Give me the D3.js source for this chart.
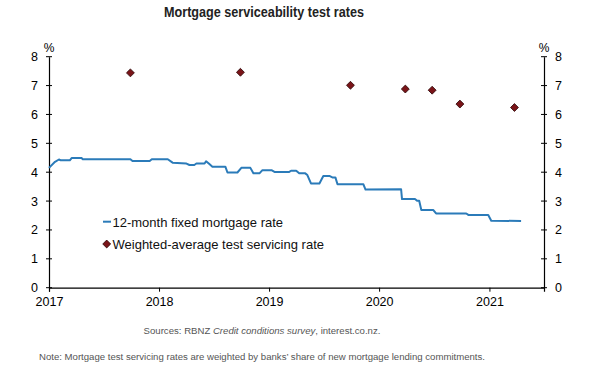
<!DOCTYPE html>
<html>
<head>
<meta charset="utf-8">
<script src="https://cdn.jsdelivr.net/npm/d3@7"></script>
<style>
  body { margin: 0; background: #fff; }
  svg { display: block; font-family: "Liberation Sans", Arial, sans-serif; }
</style>
</head>
<body>
<svg id="chart" width="589" height="370"></svg>
<script>
// 12-month fixed mortgage rate (%) at the step edges
let fixedDates = ["2017-01-01","2017-01-21","2017-02-03","2017-02-09","2017-03-11","2017-03-17","2017-04-19","2017-04-23",
  "2017-09-28","2017-10-05","2017-12-01","2017-12-08","2018-01-30","2018-02-15","2018-04-02","2018-04-12","2018-04-28",
  "2018-05-05","2018-06-01","2018-06-06","2018-06-17","2018-06-27","2018-08-09","2018-08-16","2018-09-18","2018-10-01",
  "2018-10-31","2018-11-10","2018-11-30","2018-12-10","2019-01-09","2019-01-19","2019-03-09","2019-03-15","2019-04-01",
  "2019-04-11","2019-05-01","2019-05-08","2019-05-20","2019-06-17","2019-06-30","2019-07-20","2019-07-30","2019-08-09",
  "2019-08-16","2019-11-10","2019-11-17","2020-03-14","2020-03-17","2020-04-29","2020-05-06","2020-05-13","2020-05-20",
  "2020-06-29","2020-07-08","2020-10-16","2020-10-23","2020-12-28","2021-01-07","2021-04-16"]
let fixedRates = [4.15,4.36,4.44,4.41,4.41,4.49,4.49,4.45,
  4.45,4.39,4.39,4.45,4.45,4.33,4.30,4.25,4.25,
  4.30,4.30,4.38,4.28,4.19,4.19,3.99,3.99,4.15,
  4.15,3.96,3.96,4.07,4.07,4.01,4.01,4.05,4.05,
  3.96,3.96,3.90,3.61,3.61,3.87,3.87,3.82,3.82,
  3.58,3.58,3.40,3.41,3.07,3.07,3.01,3.01,2.69,
  2.69,2.57,2.57,2.52,2.52,2.32,2.31]

// weighted-average test servicing rate (%)
let testDates = ["2017-09-28","2018-09-28","2019-09-28","2020-03-28","2020-06-25","2020-09-25","2021-03-25"]
let testRates = [7.44,7.46,7.01,6.88,6.84,6.36,6.24]

let yTicks = [0,1,2,3,4,5,6,7,8]
let xYears = [2017,2018,2019,2020,2021]

let title = "Mortgage serviceability test rates"
let legendLabels = ["12-month fixed mortgage rate", "Weighted-average test servicing rate"]

let svg = d3.select("#chart")
let parse = d3.timeParse("%Y-%m-%d")

let plotLeft = 49, plotRight = 544, plotTop = 56.7, plotBottom = 287.7
let x = d3.scaleTime().domain([new Date(2017,0,1), new Date(2021,6,1)]).range([plotLeft, plotRight])
let y = d3.scaleLinear().domain([0, 8]).range([plotBottom, plotTop])

let lineColor = "#2b7bb9"
let dotColor = "#7a1418"

// title (narrow bold face in the original, squeezed to its width)
svg.append("text")
  .attr("x", 264).attr("y", 17)
  .attr("text-anchor", "middle")
  .attr("textLength", 200)
  .attr("lengthAdjust", "spacingAndGlyphs")
  .style("font-weight", "bold")
  .style("font-size", "15.5px")
  .attr("fill", "#222")
  .text(title)

// axes
let leftAxis = d3.axisLeft(y).tickValues(yTicks).tickSize(0).tickPadding(11)
let rightAxis = d3.axisRight(y).tickValues(yTicks).tickSize(0).tickPadding(11)
let bottomAxis = d3.axisBottom(x).tickValues(xYears.map(yr => new Date(yr,0,1)))
  .tickFormat(d3.timeFormat("%Y")).tickSize(4).tickPadding(5)

let styleAxis = (g) => {
  g.select(".domain").attr("stroke", "#000").attr("stroke-width", 1.2)
  g.selectAll("text").attr("fill", "#000").style("font-size", "12.5px").style("font-family", "'Liberation Sans', Arial, sans-serif")
  g.selectAll("line").attr("stroke", "#000")
}

svg.append("g").attr("transform", "translate(" + plotLeft + ",0)").call(leftAxis).call(styleAxis)
svg.append("g").attr("transform", "translate(" + plotRight + ",0)").call(rightAxis).call(styleAxis)
svg.append("g").attr("transform", "translate(0," + plotBottom + ")").call(bottomAxis).call(styleAxis)

// small crossing ticks on the value axes
for (let side of [plotLeft, plotRight]) {
  svg.append("g").selectAll("line").data(yTicks).join("line")
    .attr("x1", side - 3).attr("x2", side + 3)
    .attr("y1", d => y(d)).attr("y2", d => y(d))
    .attr("stroke", "#000")
}

// % unit labels
for (let side of [plotLeft, plotRight]) {
  svg.append("text")
    .attr("x", side).attr("y", 52)
    .attr("text-anchor", "middle")
    .style("font-size", "12px")
    .text("%")
}

// fixed rate line
let fixedData = fixedDates.map((d, i) => ({date: parse(d), value: fixedRates[i]}))
svg.append("path")
  .datum(fixedData)
  .attr("fill", "none")
  .attr("stroke", lineColor)
  .attr("stroke-width", 2)
  .attr("stroke-linejoin", "round")
  .attr("d", d3.line().x(d => x(d.date)).y(d => y(d.value)))

// test rate diamonds
let diamond = d3.symbol().type(d3.symbolDiamond2).size(40)
let testData = testDates.map((d, i) => ({date: parse(d), value: testRates[i]}))
svg.append("g").selectAll("path").data(testData).join("path")
  .attr("transform", d => "translate(" + x(d.date) + "," + y(d.value) + ")")
  .attr("d", diamond)
  .attr("fill", dotColor)
  .attr("stroke", "#2a0506")
  .attr("stroke-width", 0.8)

// legend
let lg = svg.append("g")
lg.append("line").attr("x1", 103).attr("x2", 111).attr("y1", 221.7).attr("y2", 221.7)
  .attr("stroke", lineColor).attr("stroke-width", 2)
lg.append("path").attr("transform", "translate(106.7,244)").attr("d", diamond)
  .attr("fill", dotColor).attr("stroke", "#2a0506").attr("stroke-width", 0.8)
lg.selectAll("text").data(legendLabels).join("text")
  .attr("x", 112.5).attr("y", (d, i) => 226.5 + i * 22.3)
  .style("font-size", "13px")
  .attr("fill", "#111")
  .text(d => d)

// footnotes
let sources = svg.append("text")
  .attr("x", 262).attr("y", 333.5)
  .attr("text-anchor", "middle")
  .style("font-size", "9.6px")
  .attr("fill", "#555")
sources.append("tspan").text("Sources: RBNZ ")
sources.append("tspan").style("font-style", "italic").text("Credit conditions survey")
sources.append("tspan").text(", interest.co.nz.")

svg.append("text")
  .attr("x", 262).attr("y", 359.5)
  .attr("text-anchor", "middle")
  .style("font-size", "9.6px")
  .attr("fill", "#555")
  .text("Note: Mortgage test servicing rates are weighted by banks\u2019 share of new mortgage lending commitments.")
</script>
</body>
</html>
